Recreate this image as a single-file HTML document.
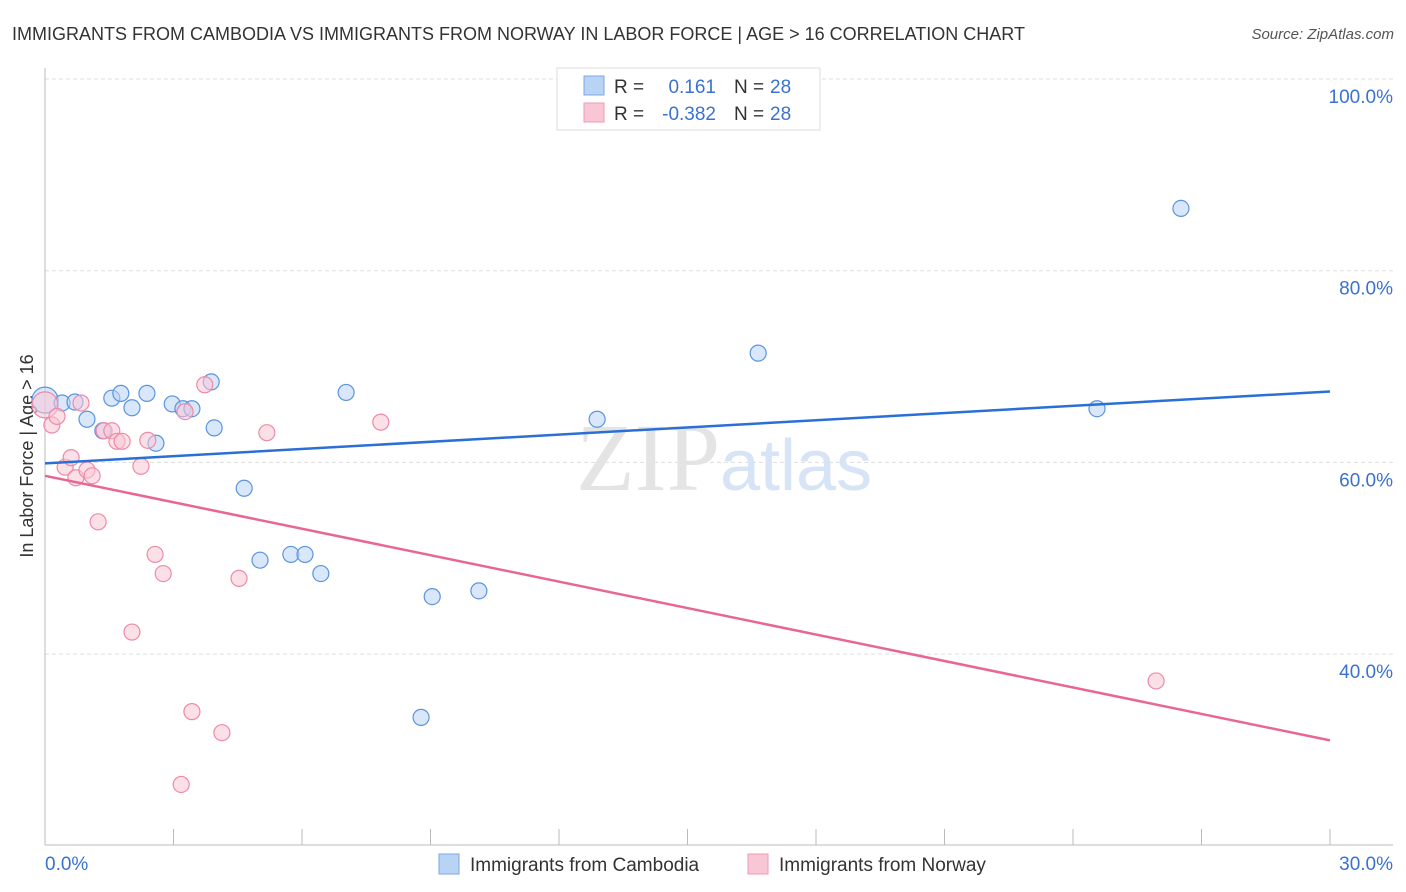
<!DOCTYPE html>
<html><head><meta charset="utf-8"><style>
body{margin:0;background:#fff;font-family:"Liberation Sans",sans-serif;}
svg{display:block}
</style></head><body>
<svg id="chart" width="1406" height="892">
<text x="12" y="40" font-size="18" fill="#333">IMMIGRANTS FROM CAMBODIA VS IMMIGRANTS FROM NORWAY IN LABOR FORCE | AGE &gt; 16 CORRELATION CHART</text>
<text x="1394" y="39" font-size="15" fill="#555" font-style="italic" text-anchor="end">Source: ZipAtlas.com</text>
<text x="0" y="0" transform="translate(33,456) rotate(-90)" font-size="18" fill="#333" text-anchor="middle">In Labor Force | Age &gt; 16</text>
<g id="grid"></g>
<text x="720" y="490" font-size="96" fill="#e4e4e4" font-family="Liberation Serif,serif" text-anchor="end">ZIP</text>
<text x="720" y="490" font-size="72" fill="#d6e4f5">atlas</text>
<g id="marks"></g>
<g>
<rect x="557" y="68" width="263" height="62" fill="#fff" stroke="#ddd"/>
<rect x="584" y="76" width="20" height="19" fill="#b9d3f5" stroke="#7ba7e6"/>
<rect x="584" y="103" width="20" height="19" fill="#f9c6d5" stroke="#ee9ab4"/>
<text x="614" y="93" font-size="19" fill="#333">R = </text>
<text x="716" y="93" font-size="19" fill="#3a72d0" text-anchor="end">0.161</text>
<text x="734" y="93" font-size="19" fill="#333">N = </text><text x="770" y="93" font-size="19" fill="#3a72d0">28</text>
<text x="614" y="120" font-size="19" fill="#333">R = </text>
<text x="716" y="120" font-size="19" fill="#3a72d0" text-anchor="end">-0.382</text>
<text x="734" y="120" font-size="19" fill="#333">N = </text><text x="770" y="120" font-size="19" fill="#3a72d0">28</text>
</g>
<g>
<rect x="439" y="854" width="20" height="20" fill="#b9d3f5" stroke="#7ba7e6"/>
<text x="470" y="871" font-size="19" fill="#333">Immigrants from Cambodia</text>
<rect x="748" y="854" width="20" height="20" fill="#f9c6d5" stroke="#ee9ab4"/>
<text x="779" y="871" font-size="19" fill="#333">Immigrants from Norway</text>
</g>
</svg>
<script>
const yTicks=[40,60,80,100];
const xTickLabels=["0.0%","30.0%"];
const cambodiaX=[0,0.40,0.70,0.98,1.35,1.56,1.77,2.03,2.38,2.59,2.97,3.22,3.43,3.88,3.95,4.65,5.02,5.74,6.07,6.44,7.03,8.78,9.04,10.13,12.89,16.65,24.56,26.52];
const cambodiaY=[66.5,66.2,66.3,64.5,63.3,66.7,67.2,65.7,67.2,62.0,66.1,65.6,65.6,68.4,63.6,57.3,49.8,50.4,50.4,48.4,67.3,33.4,46.0,46.6,64.5,71.4,65.6,86.5];
const norwayX=[0,0.16,0.28,0.47,0.61,0.72,0.84,0.98,1.10,1.24,1.38,1.56,1.68,1.80,2.03,2.24,2.40,2.57,2.76,3.27,3.43,3.73,4.13,3.18,4.53,5.18,7.84,25.94];
const norwayY=[66.0,63.9,64.8,59.5,60.5,58.4,66.2,59.2,58.6,53.8,63.3,63.3,62.2,62.2,42.3,59.6,62.3,50.4,48.4,65.3,34.0,68.1,31.8,26.4,47.9,63.1,64.2,37.2];
const cambodiaTrend=[59.9,67.4];
const norwayTrend=[58.6,31.0];
const NS="http://www.w3.org/2000/svg";
const sx=v=>45+v*(1285/30);
const sy=v=>79+(100-v)*9.585;
function mk(t,a,p){const e=document.createElementNS(NS,t);for(const k in a)e.setAttribute(k,a[k]);p.appendChild(e);return e;}
const g=document.getElementById('grid'),m=document.getElementById('marks');
yTicks.forEach(v=>{
 const l=mk('line',{x1:45,x2:1393,y1:sy(v),y2:sy(v),stroke:'#ddd','stroke-dasharray':'4,3'},g);
 
 
 const t=mk('text',{x:1393,y:sy(v)+24,'font-size':19,fill:'#3a72d0','text-anchor':'end'},g);
 t.textContent=v.toFixed(1)+'%';
 
 
});
const ax=mk('line',{x1:45,x2:45,y1:68,y2:845,stroke:'#bbb'},g);


const bx=mk('line',{x1:45,x2:1393,y1:845,y2:845,stroke:'#bbb'},g);


for(let i=0;i<=10;i++){const tk=mk('line',{x1:sx(i*3),x2:sx(i*3),y1:829,y2:845,stroke:'#bbb'},g);
 
 }
[[0,'start'],[30,'end']].forEach((d,i)=>{const t=mk('text',{x:i?1393:45,y:870,'font-size':19,fill:'#3a72d0','text-anchor':d[1]},g);t.textContent=xTickLabels[i];
 
 });
function pts(X,Y,fill,stroke,name){X.forEach((x,i)=>{const c=mk('circle',{cx:sx(x),cy:sy(Y[i]),r:i===0?13:8,fill:fill,'fill-opacity':0.55,stroke:stroke,'stroke-width':1.2},m);
 
 });}
pts(cambodiaX,cambodiaY,'#b9d3f5','#5b93e0','cambodia-point');
pts(norwayX,norwayY,'#f9c6d5','#ee8aa8','norway-point');
const l1=mk('line',{x1:sx(0),x2:sx(30),y1:sy(cambodiaTrend[0]),y2:sy(cambodiaTrend[1]),stroke:'#2a6fd6','stroke-width':2.5},m);


const l2=mk('line',{x1:sx(0),x2:sx(30),y1:sy(norwayTrend[0]),y2:sy(norwayTrend[1]),stroke:'#e86694','stroke-width':2.5},m);


</script>
</body></html>
